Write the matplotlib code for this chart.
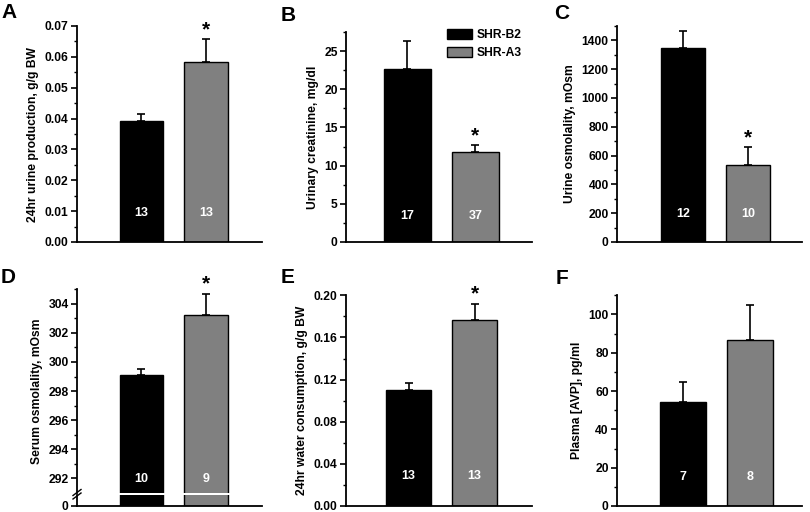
import matplotlib
matplotlib.use('Agg')
import matplotlib.pyplot as plt
from matplotlib.ticker import MultipleLocator, FixedLocator, NullLocator
from matplotlib.lines import Line2D
from matplotlib.patches import Patch

W, H = 810, 512
plt.rcParams['font.family'] = ['Liberation Sans', 'DejaVu Sans']
plt.rcParams['font.weight'] = 'bold'
plt.rcParams['axes.labelweight'] = 'bold'

groups = ['SHR-B2', 'SHR-A3']
colors = ['#000000', '#808080']

urine_prod = [0.0393, 0.0582]
urine_prod_err = [0.0022, 0.0076]
urine_prod_n = [13, 13]

creatinine = [22.7, 11.8]
creatinine_err = [3.6, 0.9]
creatinine_n = [17, 37]

urine_osm = [1345, 533]
urine_osm_err = [118, 124]
urine_osm_n = [12, 10]

serum_osm = [299.1, 303.2]
serum_osm_err = [0.4, 1.5]
serum_osm_n = [10, 9]

water = [0.110, 0.177]
water_err = [0.0072, 0.0152]
water_n = [13, 13]

avp = [54.2, 86.5]
avp_err = [10.6, 18.5]
avp_n = [7, 8]

fig = plt.figure(figsize=(W / 100, H / 100), dpi=100)


def px_axes(l, t, r, b):
    return fig.add_axes([l / W, 1 - b / H, (r - l) / W, (b - t) / H])


def style(ax, major, minor, fmt=None):
    for s in ['top', 'right']:
        ax.spines[s].set_visible(False)
    for s in ['left', 'bottom']:
        ax.spines[s].set_linewidth(1.3)
    ax.yaxis.set_major_locator(MultipleLocator(major))
    ax.yaxis.set_minor_locator(MultipleLocator(minor))
    ax.tick_params(axis='y', which='major', length=4, width=1.2, labelsize=8.7, pad=2)
    ax.tick_params(axis='y', which='minor', length=2.5, width=1.0)
    ax.tick_params(axis='x', which='both', bottom=False, labelbottom=False)
    if fmt:
        ax.yaxis.set_major_formatter(plt.FormatStrFormatter(fmt))


def bars(ax, vals, errs, width, xlim, draw_err=True):
    x = [0, 1]
    ax.bar(x, vals, width=width, color=colors, edgecolor='black', linewidth=1.0, zorder=2)
    if draw_err:
        ax.errorbar(x, vals, yerr=[[0, 0], errs], fmt='none', ecolor='black',
                    elinewidth=1.2, capsize=2.6, capthick=1.2, zorder=1)
    ax.set_xlim(*xlim)


def labels_in(ax, ns, yfrac):
    for i, n in enumerate(ns):
        ax.text(i, yfrac, str(n), transform=ax.get_xaxis_transform(), color='white',
                ha='center', va='center', fontsize=9, fontweight='bold', zorder=3)


def star(ax, val, err):
    ax.annotate('*', (1, val + err), xytext=(0, 0), textcoords='offset points',
                ha='center', va='bottom', fontsize=15, fontweight='bold')


def letter(s, x, y):
    fig.text(x / W, 1 - y / H, s, ha='left', va='top', fontsize=15, fontweight='bold')


# Panel A
axA = px_axes(77, 26, 262, 242)
bars(axA, urine_prod, urine_prod_err, 0.67, (-1.0, 1.87))
axA.set_ylim(0, 0.07)
style(axA, 0.01, 0.005, '%.2f')
axA.set_ylabel('24hr urine production, g/g BW', fontsize=8.7, labelpad=4)
labels_in(axA, urine_prod_n, 0.134)
star(axA, urine_prod[1], urine_prod_err[1])
letter('A', 1, 3)

# Panel B
axB = px_axes(346, 32, 532, 242)
bars(axB, creatinine, creatinine_err, 0.69, (-0.9, 1.83))
axB.set_ylim(0, 27.5)
style(axB, 5, 2.5, '%d')
axB.set_ylabel('Urinary creatinine, mg/dl', fontsize=8.7, labelpad=4)
labels_in(axB, creatinine_n, 0.124)
star(axB, creatinine[1], creatinine_err[1])
letter('B', 281, 6)
handles = [Patch(facecolor=c, edgecolor='black', linewidth=1.0) for c in colors]
axB.legend(handles, groups, loc='upper left', bbox_to_anchor=((447 - 346) / 186, 1 + 3 / 210),
           frameon=False, handlelength=2.1, handleheight=0.9,
           handletextpad=0.35, labelspacing=0.45, borderpad=0, borderaxespad=0,
           prop={'weight': 'bold', 'size': 8.7})

# Panel C
axC = px_axes(617, 26, 802, 242)
bars(axC, urine_osm, urine_osm_err, 0.68, (-1.015, 1.83))
axC.set_ylim(0, 1500)
style(axC, 200, 100, '%d')
axC.set_ylabel('Urine osmolality, mOsm', fontsize=8.7, labelpad=4)
labels_in(axC, urine_osm_n, 0.13)
star(axC, urine_osm[1], urine_osm_err[1])
letter('C', 554, 4)

# Panel D (broken axis)
axD = px_axes(77, 289.3, 262, 492.8)
bars(axD, serum_osm, serum_osm_err, 0.67, (-1.0, 1.87))
axD.set_ylim(291, 305)
style(axD, 2, 1, '%d')
axD.spines['bottom'].set_visible(False)
axD.set_ylabel('Serum osmolality, mOsm', fontsize=8.7, labelpad=4)
labels_in(axD, serum_osm_n, 0.07)
star(axD, serum_osm[1], serum_osm_err[1])
axD.yaxis.set_minor_locator(FixedLocator([293, 295, 297, 299, 301, 303, 305]))
axD2 = px_axes(77, 494.8, 262, 506)
bars(axD2, serum_osm, serum_osm_err, 0.67, (-1.0, 1.87), draw_err=False)
axD2.set_ylim(0, 1)
style(axD2, 1, 1, '%d')
axD2.yaxis.set_major_locator(FixedLocator([0]))
axD2.yaxis.set_minor_locator(NullLocator())
for dy in (0, 3.5):
    fig.add_artist(Line2D([73 / W, 81 / W], [1 - (495.5 + dy) / H, 1 - (489.5 + dy) / H],
                          color='black', linewidth=1.0, transform=fig.transFigure))
letter('D', 1, 268)

# Panel E
axE = px_axes(346, 295.3, 532, 506)
bars(axE, water, water_err, 0.68, (-0.95, 1.87))
axE.set_ylim(0, 0.2)
style(axE, 0.04, 0.02, '%.2f')
axE.set_ylabel('24hr water consumption, g/g BW', fontsize=8.7, labelpad=4)
labels_in(axE, water_n, 0.142)
star(axE, water[1], water_err[1])
letter('E', 281, 268)

# Panel F
axF = px_axes(617, 295.3, 802, 506)
bars(axF, avp, avp_err, 0.69, (-0.985, 1.78))
axF.set_ylim(0, 110)
style(axF, 20, 10, '%d')
axF.set_ylabel('Plasma [AVP], pg/ml', fontsize=8.7, labelpad=4)
labels_in(axF, avp_n, 0.14)
letter('F', 556, 269)

fig.savefig('out.png', dpi=100)
